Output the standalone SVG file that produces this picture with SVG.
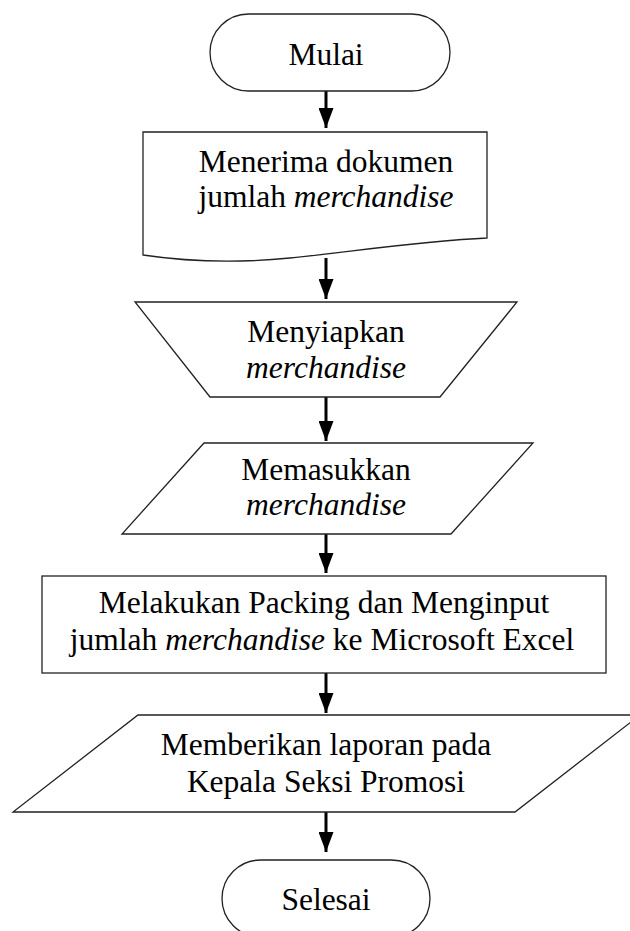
<svg xmlns="http://www.w3.org/2000/svg" width="630" height="931" viewBox="0 0 630 931">
<defs>
<style>
.s{fill:#fff;stroke:#222;stroke-width:1.3}
.t{font-family:"Liberation Serif","Times New Roman",serif;font-size:31.5px;fill:#000;text-anchor:middle}
.i{font-style:italic}
.c{stroke:#000;stroke-width:3;fill:none}
</style>
<marker id="ah" viewBox="0 0 20 15" refX="20" refY="7.5" markerWidth="20" markerHeight="15" markerUnits="userSpaceOnUse" orient="auto">
<path d="M0,0 L20,7.5 L0,15 Z" fill="#000"/>
</marker>
</defs>
<rect width="630" height="931" fill="#fff"/>
<g id="connectors">
<line class="c" x1="326" y1="91" x2="326" y2="128" marker-end="url(#ah)"/>
<line class="c" x1="326" y1="258" x2="326" y2="299" marker-end="url(#ah)"/>
<line class="c" x1="326" y1="397" x2="326" y2="441" marker-end="url(#ah)"/>
<line class="c" x1="326" y1="534" x2="326" y2="573" marker-end="url(#ah)"/>
<line class="c" x1="326" y1="673" x2="326" y2="713" marker-end="url(#ah)"/>
<line class="c" x1="326" y1="812" x2="326" y2="852" marker-end="url(#ah)"/>
</g>
<g id="start">
<rect class="s" x="210" y="14" width="240" height="77" rx="38.5"/>
<text class="t" x="326" y="65">Mulai</text>
</g>
<g id="doc">
<path class="s" d="M143,132 H487 V238 C420,241 350,252 290,258 C240,263 190,262 143,255 Z"/>
<text class="t" x="326" y="172">Menerima dokumen</text>
<text class="t" x="326" y="207">jumlah <tspan class="i">merchandise</tspan></text>
</g>
<g id="manual">
<path class="s" d="M135,302 H517 L440,397 H210 Z"/>
<text class="t" x="326" y="342">Menyiapkan</text>
<text class="t i" x="326" y="378">merchandise</text>
</g>
<g id="input">
<path class="s" d="M204,443 H533 L451,534 H122 Z"/>
<text class="t" x="326" y="480">Memasukkan</text>
<text class="t i" x="326" y="515">merchandise</text>
</g>
<g id="process">
<rect class="s" x="42" y="576" width="564" height="97"/>
<text class="t" x="324" y="613">Melakukan Packing dan Menginput</text>
<text class="t" x="322" y="650">jumlah <tspan class="i">merchandise</tspan> ke Microsoft Excel</text>
</g>
<g id="output">
<path class="s" d="M138,715 H640 L515,812 H13 Z"/>
<text class="t" x="326" y="755">Memberikan laporan pada</text>
<text class="t" x="326" y="792">Kepala Seksi Promosi</text>
</g>
<g id="end">
<rect class="s" x="222" y="860" width="208" height="77" rx="38.5"/>
<text class="t" x="326" y="910">Selesai</text>
</g>
</svg>
